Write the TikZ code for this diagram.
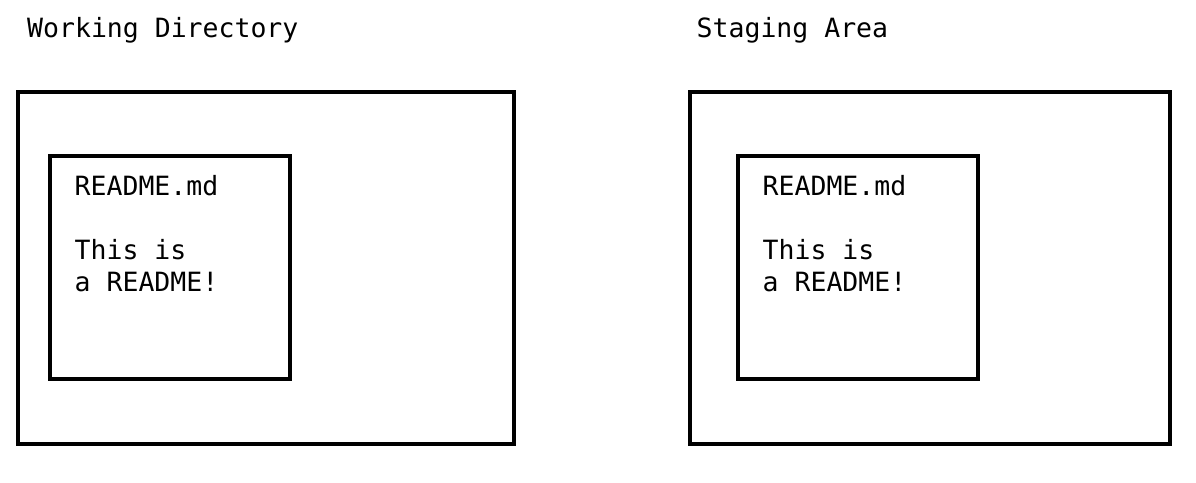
\documentclass[tikz,border=0pt]{standalone}
\usepackage{fontspec}
\setmonofont{DejaVu Sans Mono}
\begin{document}
\begin{tikzpicture}[x=1pt, y=-1pt]
    % Stili
    \tikzstyle{area}=[rectangle, draw=black, line width=3.9pt, fill=white]
    \tikzstyle{file}=[rectangle, draw=black, line width=3.9pt, fill=white, minimum width=240pt, minimum height=223pt]
    \tikzstyle{label}=[inner sep=0pt, font=\ttfamily\fontsize{26.5}{32}\selectfont]
    \tikzstyle{content}=[inner sep=0pt, align=left, anchor=north west, font=\ttfamily\fontsize{26.5}{32}\selectfont]

    \useasboundingbox (0,0) rectangle (1196,482);

    % Working Directory
    \node[label, anchor=base west] (wdlabel) at (27,37) {Working Directory};
    \node[area, minimum width=496pt, minimum height=352pt] (wdarea) at (266,268) {};
    \node[file] (wdfile) at (170,267.5) {};
    \node[content] (wdtext) at (74.5,175) {README.md\\[32pt]This is\\a README!};

    % Staging Area
    \node[label, anchor=base west] (salabel) at (696.5,37) {Staging Area};
    \node[area, minimum width=480pt, minimum height=352pt] (saarea) at (930,268) {};
    \node[file] (safile) at (858,267.5) {};
    \node[content] (satext) at (762.5,175) {README.md\\[32pt]This is\\a README!};
\end{tikzpicture}
\end{document}
